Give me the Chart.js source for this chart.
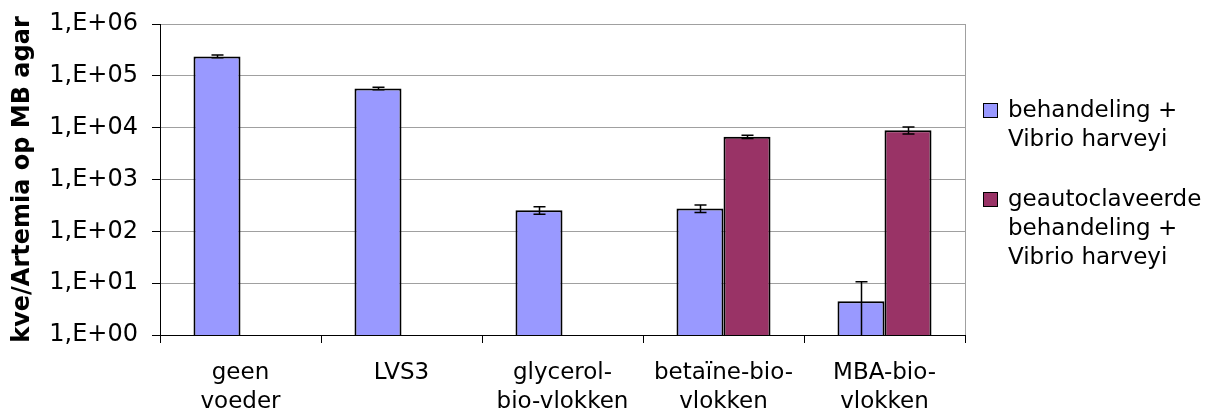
<!DOCTYPE html>
<html>
<head>
<meta charset="utf-8">
<script src="https://cdn.jsdelivr.net/npm/chart.js@4.4.1/dist/chart.umd.min.js"></script>
<style>
  html, body { margin: 0; padding: 0; background: #fff; }
  #wrap { width: 1221px; height: 414px; }
</style>
</head>
<body>
<div id="wrap"><canvas id="chart"></canvas></div>
<script>
// ----------------- DATA -----------------
const categories = [["geen", "voeder"], ["LVS3"], ["glycerol-", "bio-vlokken"], ["betaïne-bio-", "vlokken"], ["MBA-bio-", "vlokken"]];
const treatedLabel = ["behandeling +", "Vibrio harveyi"];
const autoclavedLabel = ["geautoclaveerde", "behandeling +", "Vibrio harveyi"];
const treatedValues = [237000, 57000, 256, 276, 4.5];
const treatedErrors = [14000, 3400, 42, 45, 6.1];
const autoclavedValues = [null, null, null, 6650, 8930];
const autoclavedErrors = [null, null, null, 500, 1400];
const yTicks = [1, 10, 100, 1000, 10000, 100000, 1000000];
const yTitle = "kve/Artemia op MB agar";

// ----------------- STYLE -----------------
const FONT = "'DejaVu Sans', Verdana, sans-serif";
const BLUE = "#9999ff";
const PURPLE = "#993366";
Chart.defaults.font.family = FONT;
Chart.defaults.color = "#000";

// ----------------- PLUGINS -----------------
// foutbalken, onderkant stopt op de as als die onder 1 valt
const errorBars = {
  id: "errorBars",
  afterDatasetsDraw(chart) {
    const { ctx, chartArea, scales } = chart;
    const y = scales.y;
    ctx.save();
    ctx.strokeStyle = "#000";
    ctx.lineWidth = 1.5;
    chart.data.datasets.forEach((ds, di) => {
      const meta = chart.getDatasetMeta(di);
      meta.data.forEach((bar, i) => {
        const v = ds.data[i], e = ds.errors[i];
        if (v == null || e == null) return;
        const top = y.getPixelForValue(v + e);
        const low = v - e;
        const hasLow = low > y.min;
        const bottom = hasLow ? y.getPixelForValue(low) : chartArea.bottom;
        const x = Math.round(bar.x) + 0.5, half = 6;
        ctx.beginPath();
        ctx.moveTo(x, top); ctx.lineTo(x, bottom);
        ctx.moveTo(x - half, top); ctx.lineTo(x + half, top);
        if (hasLow) { ctx.moveTo(x - half, bottom); ctx.lineTo(x + half, bottom); }
        ctx.stroke();
      });
    });
    ctx.restore();
  }
};

// grijze rand rechts van het plotvlak
const plotFrame = {
  id: "plotFrame",
  beforeDatasetsDraw(chart) {
    const { ctx, chartArea } = chart;
    ctx.save();
    ctx.strokeStyle = "#a0a0a0";
    ctx.lineWidth = 1;
    ctx.beginPath();
    ctx.moveTo(Math.round(chartArea.right) + 0.5, chartArea.top);
    ctx.lineTo(Math.round(chartArea.right) + 0.5, chartArea.bottom);
    ctx.stroke();
    ctx.restore();
  }
};

// legenda rechts, met meerdere regels per reeks
const sideLegend = {
  id: "sideLegend",
  afterDraw(chart) {
    const { ctx, chartArea } = chart;
    const x0 = Math.round(chartArea.right) + 18;
    let base = chartArea.top + 93;
    ctx.save();
    ctx.font = "23px " + FONT;
    ctx.textBaseline = "alphabetic";
    chart.data.datasets.forEach(ds => {
      ctx.fillStyle = ds.backgroundColor;
      ctx.fillRect(x0, base - 14, 15, 15);
      ctx.strokeStyle = "#000";
      ctx.lineWidth = 1;
      ctx.strokeRect(x0 + 0.5, base - 13.5, 14, 14);
      ctx.fillStyle = "#000";
      ds.legendLines.forEach((line, k) => ctx.fillText(line, x0 + 25, base + k * 29));
      base += ds.legendLines.length * 29 + 31;
    });
    ctx.restore();
  }
};

// ----------------- CHART -----------------
new Chart(document.getElementById("chart"), {
  type: "bar",
  data: {
    labels: categories,
    datasets: [
      {
        label: treatedLabel.join(" "),
        legendLines: treatedLabel,
        data: treatedValues,
        errors: treatedErrors,
        backgroundColor: BLUE,
        borderColor: "#000",
        borderWidth: 2,
        barPercentage: 1,
        categoryPercentage: 0.584
      },
      {
        label: autoclavedLabel.join(" "),
        legendLines: autoclavedLabel,
        data: autoclavedValues,
        errors: autoclavedErrors,
        backgroundColor: PURPLE,
        borderColor: "#000",
        borderWidth: 2,
        barPercentage: 1,
        categoryPercentage: 0.584
      }
    ]
  },
  options: {
    responsive: true,
    maintainAspectRatio: false,
    animation: false,
    layout: { padding: { top: 24, right: 256, left: 0, bottom: 0 } },
    plugins: { legend: { display: false }, tooltip: { enabled: false } },
    scales: {
      x: {
        offset: true,
        grid: { offset: true, drawOnChartArea: false, drawTicks: true, tickLength: 8, tickColor: "#000" },
        border: { color: "#000", width: 1 },
        ticks: { font: { size: 23, lineHeight: 1.26 }, padding: 16, maxRotation: 0, autoSkip: false, color: "#000" },
        afterFit: s => { s.height = 79; s.paddingLeft = 0; s.paddingRight = 0; }
      },
      y: {
        type: "logarithmic",
        min: 1,
        max: 1000000,
        afterBuildTicks: s => { s.ticks = yTicks.map(v => ({ value: v })); },
        grid: {
          color: c => (c.tick && c.tick.value === 1 ? "rgba(0,0,0,0)" : "#a0a0a0"),
          tickColor: "#000",
          tickLength: 8
        },
        border: { color: "#000", width: 1 },
        ticks: {
          font: { size: 24 },
          padding: 14,
          color: "#000",
          callback: v => "1,E+" + String(Math.round(Math.log10(v))).padStart(2, "0")
        },
        title: { display: true, text: yTitle, font: { size: 24, weight: "bold" }, padding: { top: 8, bottom: 0 } },
        afterFit: s => { s.width = 160; s.paddingTop = 0; s.paddingBottom = 0; }
      }
    }
  },
  plugins: [plotFrame, errorBars, sideLegend]
});
</script>
</body>
</html>
